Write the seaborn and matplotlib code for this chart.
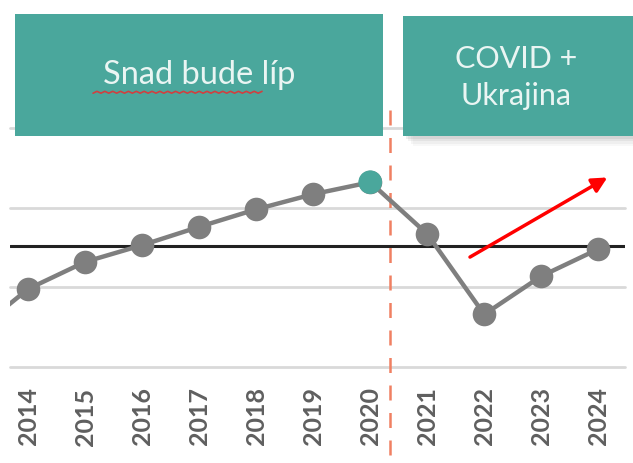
import pandas as pd
import numpy as np
import matplotlib.pyplot as plt
import seaborn as sns
from matplotlib.patches import Rectangle
from matplotlib.lines import Line2D

# data (arbitrary index units: gridlines at 80/90/100/110)
years = [2013, 2014, 2015, 2016, 2017, 2018, 2019, 2020, 2021, 2022, 2023, 2024]
values = [84.0, 89.8, 93.2, 95.3, 97.6, 99.8, 101.7, 103.2, 96.7, 86.6, 91.4, 94.8]
highlight_year = 2020
reference_level = 95.2
break_x = 2020.35
arrow_start = (2021.75, 93.8)
arrow_end = (2024.16, 103.8)
grid_levels = [80, 90, 100, 110]
box_left_text = "Snad bude líp"
box_right_text = "COVID +\nUkrajina"

TEAL = "#4aa79c"
GREY = "#7f7f7f"

sns.set_theme(style="white")
plt.rcParams["font.family"] = ["Lato", "DejaVu Sans"]

df = pd.DataFrame({"rok": years, "hodnota": values})

fig = plt.figure(figsize=(6.33, 4.64), dpi=100)
ax = fig.add_axes([0.0158, 0.207, 0.9716, 0.556])

for g in grid_levels:
    ax.axhline(g, color="#d9d9d9", lw=2, zorder=0, clip_on=False)
ax.axhline(reference_level, color="#222222", lw=2.2, zorder=1)

sns.lineplot(data=df, x="rok", y="hodnota", ax=ax, color=GREY, lw=3.2,
             marker="o", markersize=17, markeredgewidth=0, zorder=3)
hl = df[df["rok"] == highlight_year]
sns.scatterplot(data=hl, x="rok", y="hodnota", ax=ax, color=TEAL, s=289,
                edgecolor="none", zorder=4)

ax.axvline(break_x, ymin=-0.34, ymax=1.0, color="#f08062", lw=1.8,
           dashes=(6, 5), clip_on=False, zorder=2)

ax.annotate("", xy=arrow_end, xytext=arrow_start,
            arrowprops=dict(arrowstyle="-|>,head_length=0.75,head_width=0.38",
                            color="#ff0000", lw=2.5, shrinkA=0, shrinkB=0),
            zorder=5)

ax.set_xlim(2013.68, 2024.47)
ax.set_ylim(80, 112.4)
ax.set_xticks(years[1:])
ax.set_xticklabels([str(y) for y in years[1:]], rotation=90,
                   fontsize=18, fontweight="bold", color="#5f5f5f")
ax.tick_params(axis="x", length=0, pad=14)
ax.set_yticks([])
ax.set_xlabel("")
ax.set_ylabel("")
for s in ax.spines.values():
    s.set_visible(False)

# header boxes (soft shadow under the right one)
for i, a in enumerate([0.10, 0.08, 0.06, 0.04]):
    off = 0.004 * (i + 1)
    fig.add_artist(Rectangle((0.6367 + off, 0.7047 - 1.4 * off), 0.4, 0.2587,
                             transform=fig.transFigure, facecolor="#606060",
                             edgecolor="none", alpha=a, zorder=10))
fig.add_artist(Rectangle((0.0237, 0.7047), 0.5813, 0.263, transform=fig.transFigure,
                         facecolor=TEAL, edgecolor="none", zorder=10))
fig.add_artist(Rectangle((0.6367, 0.7047), 0.4, 0.2587, transform=fig.transFigure,
                         facecolor=TEAL, edgecolor="none", zorder=11))

fig.text(0.3145, 0.838, box_left_text, ha="center", va="center", fontsize=23.5,
         color="#eaf5f3", zorder=12)
fig.text(0.815, 0.833, box_right_text, ha="center", va="center", fontsize=22,
         color="#eaf5f3", linespacing=1.4, zorder=12)

# spellcheck squiggle under "Snad bude"
zx = np.linspace(0.147, 0.414, 44)
zy = 0.797 + 0.004 * (np.arange(44) % 2)
fig.add_artist(Line2D(zx, zy, transform=fig.transFigure, color="#d04040",
                      lw=1.2, zorder=13))

plt.savefig("out.png", dpi=100)
plt.close()
